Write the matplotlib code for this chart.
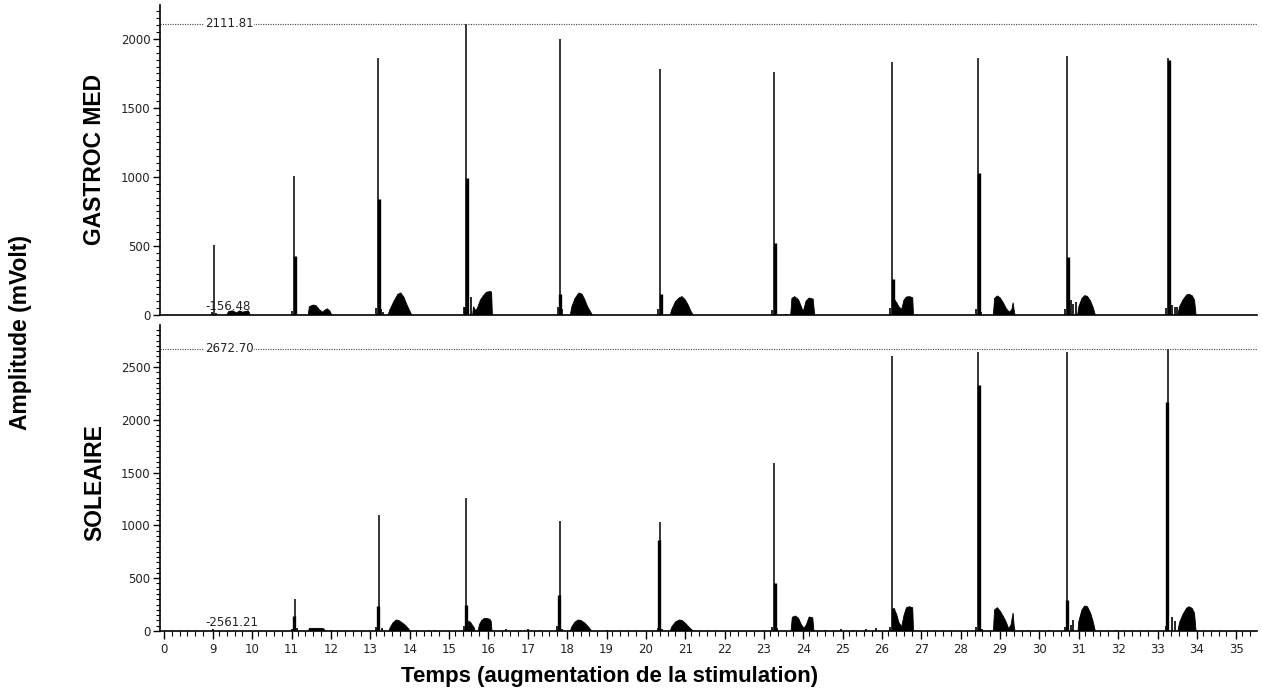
import numpy as np
import matplotlib
matplotlib.use('Agg')
import matplotlib.pyplot as plt
from matplotlib.ticker import FixedLocator, MultipleLocator

# ---- GASTROC MED (top panel) ----
gm_spike_t = [9.03, 11.06, 13.20, 15.44, 17.81, 20.36, 23.25, 26.25, 28.45, 30.71, 33.27]
gm_spike_a = [507, 1010, 1860, 2111.81, 2000, 1780, 1760, 1830, 1860, 1880, 1860]
gm_second_t = [11.08, 13.22, 15.46, 17.83, 20.38, 23.27, 26.27, 28.47, 30.73, 33.29]
gm_second_a = [430, 840, 990, 150, 155, 520, 260, 1030, 420, 1850]
gm_small_t = [8.98, 9.08, 11.0, 11.12, 13.14, 13.27, 13.31, 15.38, 15.41, 15.55, 17.76, 17.86,
              20.32, 20.41, 23.2, 23.31, 23.55, 26.2, 28.4, 28.52, 30.66, 30.8, 30.86, 30.92,
              33.22, 33.38, 33.44, 33.5]
gm_small_a = [20, 15, 30, 25, 50, 40, 25, 55, 60, 133, 55, 45,
              40, 25, 35, 20, 10, 50, 40, 25, 40, 110, 80, 95,
              50, 70, 60, 55]
gm_burst_t = [
    [9.35, 9.4, 9.5, 9.6, 9.68, 9.75, 9.82, 9.9, 9.95],
    [11.42, 11.45, 11.55, 11.62, 11.7, 11.78, 11.85, 11.9, 11.97, 12.02],
    [13.45, 13.5, 13.6, 13.7, 13.77, 13.85, 13.92, 14.0, 14.05],
    [15.6, 15.62, 15.68, 15.72, 15.8, 15.9, 15.95, 16.05, 16.08, 16.1],
    [18.08, 18.12, 18.2, 18.3, 18.38, 18.45, 18.52, 18.58, 18.64],
    [20.62, 20.66, 20.75, 20.85, 20.92, 21.0, 21.08, 21.14, 21.2],
    [23.68, 23.71, 23.78, 23.88, 23.95, 24.0, 24.07, 24.15, 24.25, 24.29],
    [26.27, 26.3, 26.37, 26.43, 26.5, 26.56, 26.62, 26.7, 26.78, 26.8],
    [28.83, 28.86, 28.93, 29.0, 29.08, 29.16, 29.24, 29.3, 29.33, 29.36, 29.38],
    [30.97, 31.0, 31.08, 31.15, 31.22, 31.3, 31.37, 31.42],
    [33.52, 33.56, 33.65, 33.74, 33.8, 33.88, 33.94, 33.98],
]
gm_burst_a = [
    [0, 25, 30, 15, 30, 20, 25, 30, 0],
    [0, 60, 72, 68, 40, 20, 35, 45, 30, 0],
    [0, 40, 100, 150, 160, 130, 80, 30, 0],
    [0, 60, 30, 50, 110, 150, 165, 170, 165, 0],
    [0, 60, 120, 160, 150, 110, 60, 30, 0],
    [0, 40, 95, 125, 133, 110, 70, 30, 0],
    [0, 120, 133, 110, 60, 25, 100, 123, 115, 0],
    [0, 120, 90, 60, 40, 110, 130, 133, 125, 0],
    [0, 120, 138, 125, 90, 45, 20, 40, 89, 30, 0],
    [0, 60, 120, 140, 135, 100, 50, 0],
    [0, 60, 110, 145, 150, 140, 110, 0],
]
gm_max_label = '2111.81'
gm_min_label = '-156.48'
gm_ymax = 2246

# ---- SOLEAIRE (bottom panel) ----
sol_spike_t = [11.09, 13.22, 15.44, 17.82, 20.36, 23.25, 26.25, 28.45, 30.71, 33.27]
sol_spike_a = [303, 1100, 1260, 1040, 1035, 1590, 2600, 2640, 2640, 2672.70]
sol_second_t = [11.07, 13.20, 15.42, 17.80, 20.34, 23.27, 26.27, 28.47, 30.69, 33.25]
sol_second_a = [142, 240, 246, 341, 860, 454, 215, 2330, 294, 2170]
sol_small_t = [9.0, 11.02, 11.14, 12.0, 13.15, 13.3, 14.5, 14.65, 15.38, 16.45, 17.0, 17.3,
               17.75, 17.88, 19.0, 20.3, 20.42, 23.2, 23.32, 24.55, 24.95, 25.25, 25.6, 25.85,
               26.2, 28.4, 28.55, 29.7, 30.25, 30.66, 30.8, 30.86, 31.95, 33.22, 33.38, 33.45]
sol_small_a = [15, 20, 25, 10, 40, 25, 10, 10, 45, 15, 20, 10,
               45, 20, 10, 30, 20, 40, 25, 10, 15, 10, 15, 25,
               40, 40, 20, 10, 10, 40, 60, 100, 10, 50, 130, 90]
sol_burst_t = [
    [11.43, 11.45, 11.6, 11.75, 11.82, 11.85],
    [13.47, 13.5, 13.58, 13.66, 13.72, 13.8, 13.9, 13.97, 14.01],
    [15.48, 15.5, 15.55, 15.6, 15.64, 15.66],
    [15.74, 15.77, 15.83, 15.9, 15.97, 16.04, 16.07, 16.09],
    [18.08, 18.12, 18.2, 18.28, 18.35, 18.45, 18.55, 18.62],
    [20.62, 20.66, 20.75, 20.85, 20.92, 21.0, 21.1, 21.2],
    [23.69, 23.72, 23.8, 23.88, 23.95, 24.02, 24.08, 24.15, 24.24, 24.27],
    [26.27, 26.3, 26.37, 26.43, 26.5, 26.56, 26.62, 26.7, 26.78, 26.8],
    [28.83, 28.86, 28.93, 29.0, 29.08, 29.16, 29.22, 29.28, 29.33, 29.36, 29.38],
    [30.98, 31.0, 31.08, 31.15, 31.22, 31.3, 31.37, 31.42],
    [33.52, 33.56, 33.65, 33.74, 33.8, 33.88, 33.94, 33.98],
]
sol_burst_a = [
    [0, 25, 25, 25, 20, 0],
    [0, 30, 80, 104, 100, 80, 50, 20, 0],
    [0, 95, 80, 50, 30, 0],
    [0, 60, 100, 120, 118, 110, 90, 0],
    [0, 40, 85, 104, 100, 75, 35, 0],
    [0, 40, 85, 104, 100, 75, 35, 0],
    [0, 130, 142, 120, 60, 25, 60, 133, 125, 0],
    [0, 215, 160, 80, 40, 150, 220, 230, 220, 0],
    [0, 200, 221, 190, 140, 80, 20, 60, 170, 40, 0],
    [0, 90, 200, 237, 230, 170, 80, 0],
    [0, 80, 160, 215, 230, 215, 170, 0],
]
sol_max_label = '2672.70'
sol_min_label = '-2561.21'
sol_ymax = 2898

x_major = [7.75] + list(range(9, 36))
x_major_labels = ['0'] + [str(v) for v in range(9, 36)]
x_left, x_right = 7.655, 35.52

TICK_FS = 8.5


def draw_panel(ax, spike_t, spike_a, second_t, second_a, small_t, small_a,
               burst_t, burst_a, vmax, max_label, min_label, ymax):
    '''
    Draw one EMG panel (spikes, bursts, max/min markers)
    '''
    for bt, ba in zip(burst_t, burst_a):
        ax.fill(bt, ba, color='black', lw=0.6)
    ax.vlines(small_t, 0, small_a, color='black', lw=1.2)
    ax.vlines(second_t, 0, second_a, color='black', lw=2.4)
    ax.vlines(spike_t, 0, spike_a, color='black', lw=1.1)

    # Max dotted line
    ax.axhline(vmax, color='#444444', lw=0.8, ls=(0, (1, 1.2)))
    ax.text(8.8, vmax, max_label, fontsize=TICK_FS, va='center', ha='left',
            color='#222222', bbox=dict(facecolor='white', edgecolor='none', pad=0.5))
    ax.text(8.8, ymax * 0.006, min_label, fontsize=TICK_FS, va='bottom', ha='left',
            color='#222222')

    ax.set_xlim(x_left, x_right)
    ax.set_ylim(0, ymax)
    ax.spines['top'].set_visible(False)
    ax.spines['right'].set_visible(False)
    ax.spines['left'].set_linewidth(1.2)
    ax.spines['bottom'].set_linewidth(1.2)

    ax.yaxis.set_major_locator(MultipleLocator(500))
    ax.yaxis.set_minor_locator(MultipleLocator(50))
    ax.tick_params(axis='y', which='major', length=5, width=1, labelsize=TICK_FS,
                   labelcolor='#222222', pad=2)
    ax.tick_params(axis='y', which='minor', length=3, width=0.8)


fig = plt.figure(figsize=(12.62, 6.95), dpi=100)
ax_top = fig.add_axes([0.1268, 0.5468, 0.8690, 0.4460])
ax_bot = fig.add_axes([0.1268, 0.0921, 0.8690, 0.4403])

draw_panel(ax_top, gm_spike_t, gm_spike_a, gm_second_t, gm_second_a, gm_small_t, gm_small_a,
           gm_burst_t, gm_burst_a, max(gm_spike_a), gm_max_label, gm_min_label, gm_ymax)
draw_panel(ax_bot, sol_spike_t, sol_spike_a, sol_second_t, sol_second_a, sol_small_t, sol_small_a,
           sol_burst_t, sol_burst_a, max(sol_spike_a), sol_max_label, sol_min_label, sol_ymax)

# Top panel: no x ticks
ax_top.tick_params(axis='x', which='both', bottom=False, labelbottom=False)

# Bottom panel: time axis
ax_bot.xaxis.set_major_locator(FixedLocator(x_major))
ax_bot.set_xticklabels(x_major_labels)
minor = [v for v in np.arange(7.95, 35.6, 0.2) if min(abs(v - m) for m in x_major) > 0.05]
ax_bot.xaxis.set_minor_locator(FixedLocator(minor))
ax_bot.tick_params(axis='x', which='major', length=6, width=1, labelsize=TICK_FS,
                   labelcolor='#222222', pad=3)
ax_bot.tick_params(axis='x', which='minor', length=3.5, width=0.8)

# Labels
fig.text(0.075, 0.770, 'GASTROC MED', rotation=90, ha='center', va='center',
         fontsize=16.5, fontweight='bold', family='Liberation Sans')
fig.text(0.075, 0.306, 'SOLEAIRE', rotation=90, ha='center', va='center',
         fontsize=16.5, fontweight='bold', family='Liberation Sans')
fig.text(0.016, 0.522, 'Amplitude (mVolt)', rotation=90, ha='center', va='center',
         fontsize=16.5, fontweight='bold', family='Liberation Sans')
fig.text(0.483, 0.026, 'Temps (augmentation de la stimulation)', ha='center', va='center',
         fontsize=16, fontweight='bold', family='Liberation Sans')

fig.savefig('out.png', dpi=100)
